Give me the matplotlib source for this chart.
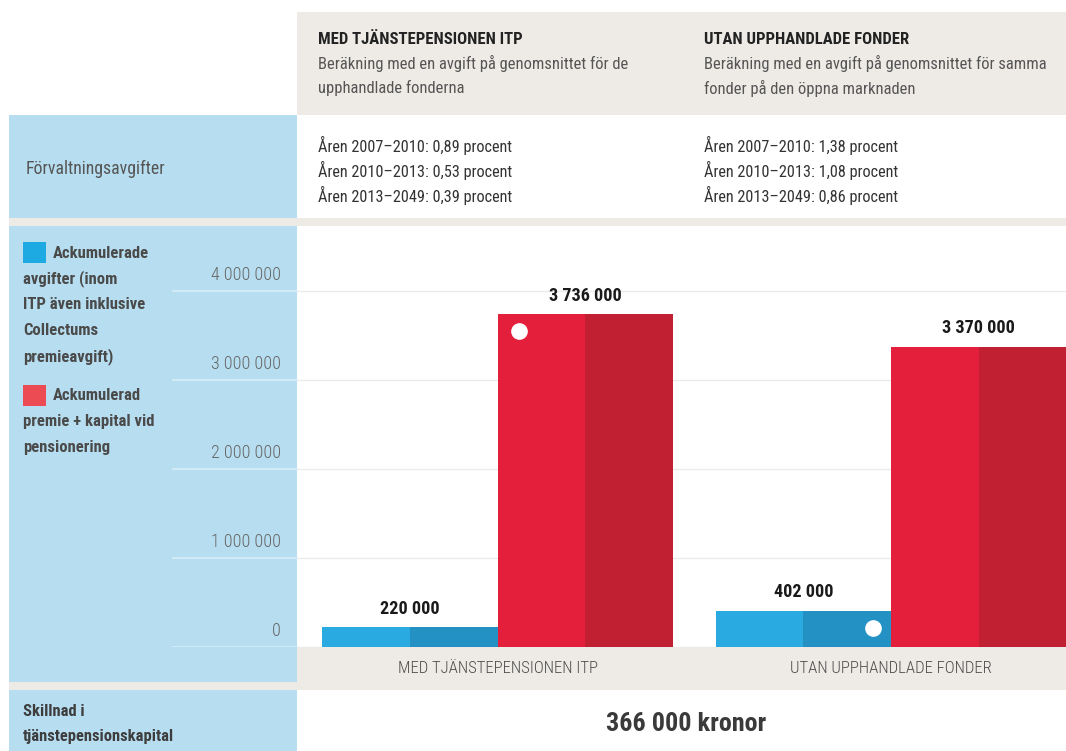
import matplotlib
matplotlib.use('Agg')
import matplotlib.pyplot as plt
from matplotlib.patches import Rectangle
from matplotlib import font_manager as fm

# data
kategorier = ['MED TJÄNSTEPENSIONEN ITP', 'UTAN UPPHANDLADE FONDER']
avgifter = [220000, 402000]          # ackumulerade avgifter
kapital = [3736000, 3370000]         # ackumulerad premie + kapital
yticks = [0, 1000000, 2000000, 3000000, 4000000]
rubriker = ['MED TJÄNSTEPENSIONEN ITP', 'UTAN UPPHANDLADE FONDER']
underrubriker = [['Beräkning med en avgift på genomsnittet för de', 'upphandlade fonderna'],
                 ['Beräkning med en avgift på genomsnittet för samma', 'fonder på den öppna marknaden']]
avgiftsrader = [['Åren 2007–2010: 0,89 procent', 'Åren 2010–2013: 0,53 procent', 'Åren 2013–2049: 0,39 procent'],
                ['Åren 2007–2010: 1,38 procent', 'Åren 2010–2013: 1,08 procent', 'Åren 2013–2049: 0,86 procent']]
legend_bla = ['avgifter (inom', 'ITP även inklusive', 'Collectums', 'premieavgift)']
legend_rod = ['premie + kapital vid', 'pensionering']
skillnad = '366 000 kronor'

# smal font om det finns någon
namn = {f.name for f in fm.fontManager.ttflist}
familj = None
for kand in ['Roboto Condensed', 'Liberation Sans Narrow', 'DejaVu Sans Condensed',
             'Open Sans Condensed', 'Noto Sans Condensed', 'Arial Narrow']:
    if kand in namn:
        familj = kand
        break
if familj is None:
    smala = [f.name for f in fm.fontManager.ttflist
             if str(f.stretch) in ('condensed', 'semi-condensed', 'extra-condensed')]
    if smala:
        familj = smala[0]
        plt.rcParams['font.stretch'] = 'condensed'
    else:
        familj = 'Roboto'
plt.rcParams['font.family'] = [familj, 'DejaVu Sans']

W, H = 1066, 751
fig = plt.figure(figsize=(W / 100, H / 100), dpi=100)
fig.patch.set_facecolor('white')

BLA_BG = '#b7def0'
BEIGE = '#eeebe6'

def rect(x0, y0, x1, y1, c):
    fig.add_artist(Rectangle((x0 / W, 1 - y1 / H), (x1 - x0) / W, (y1 - y0) / H,
                             transform=fig.transFigure, color=c, lw=0, zorder=-10))

def ftext(x, y, s, **kw):
    return fig.text(x / W, 1 - y / H, s, **kw)

grupp = {}  # textgrupper som ska passas till bredder i referensen

def reg(namn_, t, bredd):
    grupp.setdefault(namn_, []).append((t, bredd))

# bakgrunder
rect(297, 12, 1066, 115, BEIGE)
rect(9, 115, 297, 218, BLA_BG)
rect(9, 218, 1066, 226, BEIGE)
rect(9, 226, 297, 682, BLA_BG)
rect(297, 647, 1066, 690, BEIGE)
rect(9, 682, 297, 690, BEIGE)
rect(9, 690, 297, 751, BLA_BG)

# rubriker
rub_b = [205, 214]
sub_b = [[310, 150], [341, 213]]
for i, x in enumerate([318, 704]):
    reg('rub', ftext(x, 40, rubriker[i], fontsize=18, fontweight='bold', color='#222222', va='center'), rub_b[i])
    for j, rad in enumerate(underrubriker[i]):
        reg('sub', ftext(x, 63 + 25 * j, rad, fontsize=15, color='#555555', va='center'), sub_b[i][j])
    for j, rad in enumerate(avgiftsrader[i]):
        reg('avg', ftext(x, 145 + 25 * j, rad, fontsize=15, color='#333333', va='center'), 195)

reg('forv', ftext(26, 169, 'Förvaltningsavgifter', fontsize=15, color='#555555', va='center'), 140)

# legend
rect(23, 242, 46, 263, '#1daae2')
reg('leg', ftext(53, 253, 'Ackumulerade', fontsize=16, fontweight='bold', color='#4a4a4a', va='center'), 100)
for j, (rad, b) in enumerate(zip(legend_bla, [100, 122, 76, 96])):
    reg('leg', ftext(23, 279 + 25.7 * j, rad, fontsize=16, fontweight='bold', color='#4a4a4a', va='center'), b)
rect(23, 385, 46, 406, '#ec4b53')
reg('leg', ftext(53, 396, 'Ackumulerad', fontsize=16, fontweight='bold', color='#4a4a4a', va='center'), 92)
for j, (rad, b) in enumerate(zip(legend_rod, [138, 91])):
    reg('leg', ftext(23, 422 + 25.5 * j, rad, fontsize=16, fontweight='bold', color='#4a4a4a', va='center'), b)

# diagram
ax = fig.add_axes([172 / W, 1 - 647 / H, (1066 - 172) / W, (647 - 226) / H])
ax.set_facecolor('none')
ax.set_xlim(-1.855, 3.239)
ax.set_ylim(0, 4.73e6)
ax.set_axis_off()

blue_edge = (297 - 172) / (1066 - 172)
for t in yticks:
    ax.axhline(t, xmin=0, xmax=blue_edge, color='#d8edf7', lw=1.2, zorder=0.5)
    ax.axhline(t, xmin=blue_edge, xmax=1, color='#ebebeb', lw=1.0, zorder=0.5)
    lab = ax.annotate(f'{t:,}'.replace(',', ' '), xy=(0.122, t), xycoords=ax.get_yaxis_transform(),
                      xytext=(0, 5), textcoords='offset points', ha='right', va='bottom',
                      fontsize=17, fontweight='light', color='#666666')
    reg('tick', lab, 78 * len(lab.get_text()) / 9)

grupper = [0, 2.242]
kat_b = [200, 212]
for i, c in enumerate(grupper):
    ax.bar(c - 0.75, avgifter[i], width=0.5, color='#29abe2', lw=0, zorder=2)
    ax.bar(c - 0.25, avgifter[i], width=0.5, color='#2391c4', lw=0, zorder=2)
    ax.bar(c + 0.25, kapital[i], width=0.5, color='#e31f3c', lw=0, zorder=2)
    ax.bar(c + 0.75, kapital[i], width=0.5, color='#c11f32', lw=0, zorder=2)
    for xv, v in [(c - 0.5, avgifter[i]), (c + 0.5, kapital[i])]:
        lab = ax.annotate(f'{v:,}'.replace(',', ' '), xy=(xv, v), xytext=(0, 7),
                          textcoords='offset points', ha='center', va='bottom',
                          fontsize=18, fontweight='bold', color='#1a1a1a')
        reg('val', lab, 76 * len(lab.get_text()) / 9)
    reg('kat', ax.text(c, -0.05, kategorier[i], transform=ax.get_xaxis_transform(),
                       ha='center', va='center', fontsize=16, fontweight='light',
                       color='#4d4d4d'), kat_b[i])

# vita markeringar
ax.plot(grupper[0] + 0.125, kapital[0] - 190000, 'o', color='white', ms=11, zorder=3)
ax.plot(grupper[1] - 0.1, avgifter[1] - 190000, 'o', color='white', ms=11, zorder=3)

# skillnad
reg('skill', ftext(23, 711, 'Skillnad i', fontsize=16, fontweight='bold', color='#3d3d3d', va='center'), 63)
reg('skill', ftext(23, 737, 'tjänstepensionskapital', fontsize=16, fontweight='bold', color='#3d3d3d', va='center'), 150)
reg('kr', ftext(686, 724, skillnad, fontsize=26, fontweight='bold', color='#3a3a3a', ha='center', va='center'), 160)

# anpassa storlek per grupp så att bredderna stämmer med referensen
r = fig.canvas.get_renderer()
for texter in grupp.values():
    skala = min(b / t.get_window_extent(r).width for t, b in texter)
    skala = min(skala, 1.0)
    for t, b in texter:
        t.set_fontsize(t.get_fontsize() * skala)

fig.savefig('out.png', dpi=100)
